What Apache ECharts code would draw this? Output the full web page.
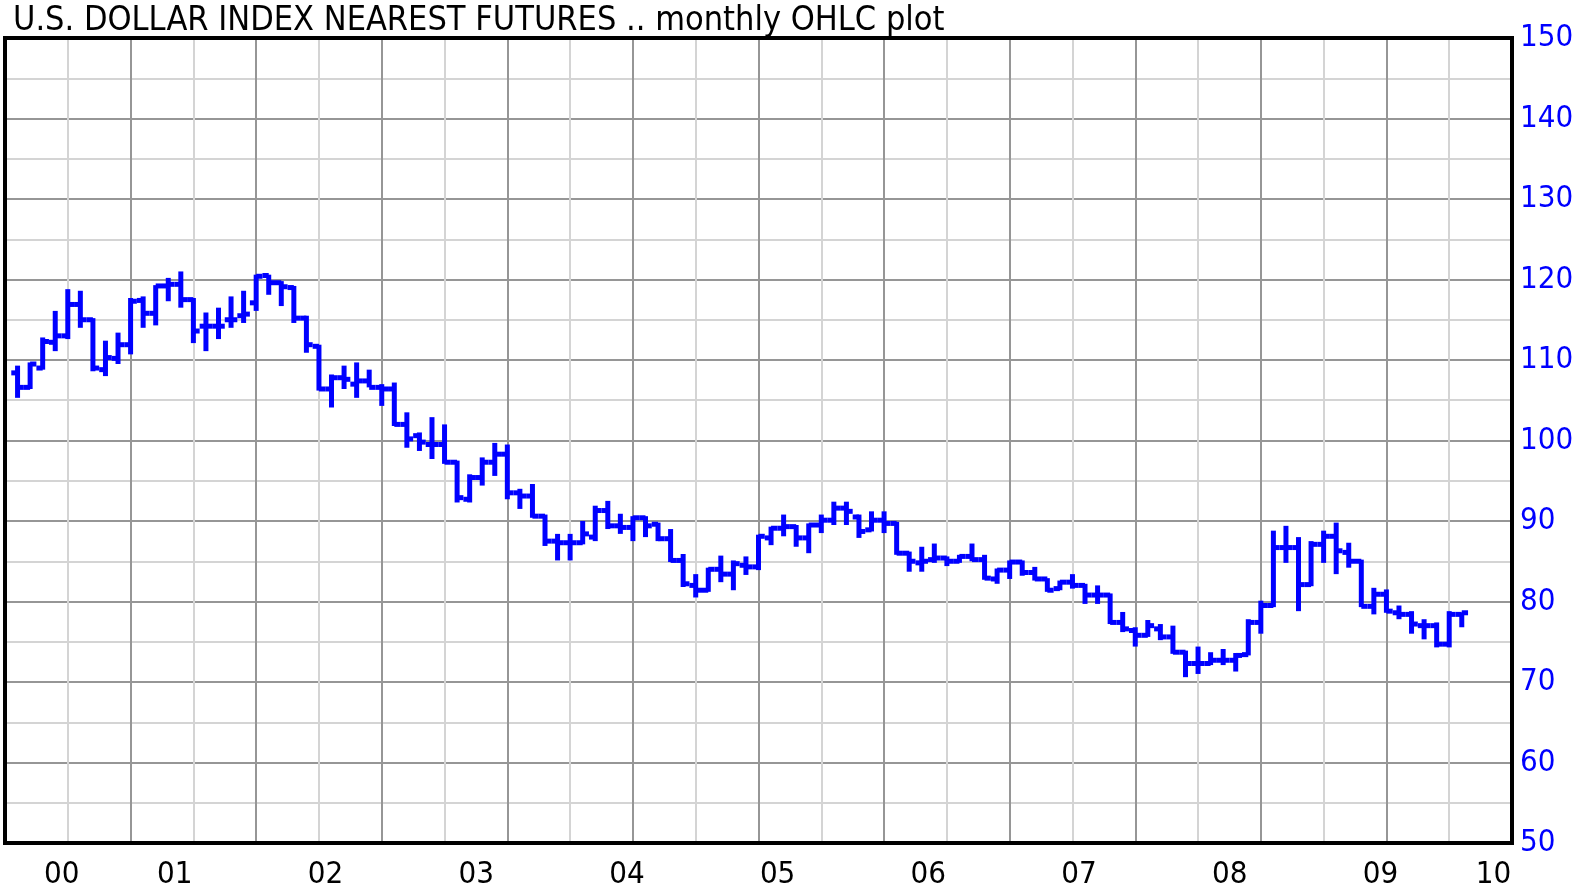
<!DOCTYPE html>
<html>
<head>
<meta charset="utf-8">
<title>U.S. Dollar Index nearest futures</title>
<script src="https://cdn.jsdelivr.net/npm/echarts@6/dist/echarts.min.js"></script>
<style>
  html, body { margin: 0; padding: 0; background: #fff; }
  #chart { width: 1577px; height: 890px; }
</style>
</head>
<body>
<div id="chart"></div>
<script>
// category axis: one slot per month, May 2000 .. May 2010
const months = [
  '2000-05', '2000-06', '2000-07', '2000-08', '2000-09', '2000-10', '2000-11', '2000-12',
  '2001-01', '2001-02', '2001-03', '2001-04', '2001-05', '2001-06', '2001-07', '2001-08', '2001-09', '2001-10', '2001-11', '2001-12',
  '2002-01', '2002-02', '2002-03', '2002-04', '2002-05', '2002-06', '2002-07', '2002-08', '2002-09', '2002-10', '2002-11', '2002-12',
  '2003-01', '2003-02', '2003-03', '2003-04', '2003-05', '2003-06', '2003-07', '2003-08', '2003-09', '2003-10', '2003-11', '2003-12',
  '2004-01', '2004-02', '2004-03', '2004-04', '2004-05', '2004-06', '2004-07', '2004-08', '2004-09', '2004-10', '2004-11', '2004-12',
  '2005-01', '2005-02', '2005-03', '2005-04', '2005-05', '2005-06', '2005-07', '2005-08', '2005-09', '2005-10', '2005-11', '2005-12',
  '2006-01', '2006-02', '2006-03', '2006-04', '2006-05', '2006-06', '2006-07', '2006-08', '2006-09', '2006-10', '2006-11', '2006-12',
  '2007-01', '2007-02', '2007-03', '2007-04', '2007-05', '2007-06', '2007-07', '2007-08', '2007-09', '2007-10', '2007-11', '2007-12',
  '2008-01', '2008-02', '2008-03', '2008-04', '2008-05', '2008-06', '2008-07', '2008-08', '2008-09', '2008-10', '2008-11', '2008-12',
  '2009-01', '2009-02', '2009-03', '2009-04', '2009-05', '2009-06', '2009-07', '2009-08', '2009-09', '2009-10', '2009-11', '2009-12',
  '2010-01', '2010-02', '2010-03', '2010-04', '2010-05',
]

// monthly bars, Jun 2000 .. Jan 2010
const firstBar = '2000-06'
const opens = [
  108.4, 106.6, 109.0, 112.2, 113.0, 116.9, 115.0, 108.8, 110.2, 111.9, 117.4, 115.8,
  119.2, 119.4, 117.5, 114.2, 114.2, 115.0, 115.5, 117.1, 120.5, 119.6, 119.0, 115.2,
  111.7, 106.4, 107.8, 107.0, 107.4, 106.6, 106.4, 102.0, 100.6, 99.5, 99.5, 97.3,
  92.7, 95.4, 97.3, 98.3, 93.5, 93.1, 90.6, 87.5, 87.3, 87.3, 88.0, 91.3,
  89.4, 89.2, 90.4, 89.6, 87.8, 85.1, 82.0, 81.4, 84.0, 83.4, 84.5, 84.3,
  87.9, 89.1, 89.3, 87.9, 89.5, 90.1, 91.6, 90.5, 88.9, 90.1, 89.7, 86.0,
  84.8, 85.2, 85.4, 85.0, 85.6, 85.2, 82.8, 83.9, 84.9, 83.6, 82.8, 81.6,
  82.4, 82.0, 80.8, 80.8, 77.4, 76.4, 75.8, 76.6, 75.6, 73.7, 72.3, 72.3,
  72.7, 72.7, 73.4, 77.4, 79.5, 86.7, 86.7, 82.1, 87.1, 88.1, 86.1, 85.0,
  79.4, 80.9, 78.6, 78.4, 77.0, 77.0, 74.7, 78.4,
]
const highs = [
  109.3, 109.7, 112.8, 116.1, 118.8, 118.6, 115.2, 112.4, 113.4, 117.7, 117.9, 119.3,
  120.2, 121.0, 117.7, 115.9, 116.5, 117.9, 118.6, 120.6, 120.6, 119.8, 119.2, 115.5,
  111.9, 108.2, 109.3, 109.7, 108.8, 107.0, 107.2, 103.5, 101.0, 102.9, 102.0, 97.5,
  95.8, 97.9, 99.7, 99.5, 94.0, 94.6, 90.8, 88.4, 88.4, 90.0, 91.9, 92.5,
  90.9, 90.6, 90.6, 89.8, 89.0, 85.9, 83.4, 84.2, 85.7, 85.1, 85.6, 88.3,
  89.3, 90.8, 89.5, 89.7, 90.8, 92.4, 92.4, 90.8, 91.2, 91.2, 89.9, 86.2,
  86.8, 87.2, 85.6, 85.8, 87.2, 85.8, 84.1, 85.1, 85.1, 84.3, 82.9, 82.6,
  83.4, 82.2, 82.0, 81.0, 78.7, 76.8, 77.7, 77.2, 77.0, 73.9, 74.4, 73.7,
  74.1, 73.6, 77.8, 80.1, 88.8, 89.4, 88.0, 87.5, 88.8, 89.8, 87.3, 85.2,
  81.7, 81.5, 79.5, 78.8, 77.8, 77.4, 78.8, 78.6,
]
const lows = [
  105.3, 106.4, 108.8, 111.1, 112.6, 114.0, 108.6, 108.0, 109.5, 110.7, 114.0, 114.3,
  117.3, 116.5, 112.1, 111.1, 112.6, 114.0, 114.6, 116.1, 118.1, 116.7, 114.6, 110.9,
  106.2, 104.1, 106.4, 105.3, 106.6, 104.3, 101.8, 99.1, 98.7, 97.7, 97.1, 92.3,
  92.3, 94.4, 95.6, 92.7, 91.5, 90.4, 86.9, 85.1, 85.1, 87.1, 87.5, 89.0,
  88.4, 87.5, 88.0, 87.5, 84.9, 81.8, 80.5, 81.2, 82.4, 81.4, 83.3, 83.9,
  87.0, 88.1, 86.8, 86.0, 88.5, 89.5, 89.5, 87.9, 88.7, 88.5, 85.8, 83.7,
  83.7, 84.8, 84.4, 84.8, 85.0, 82.7, 82.2, 82.8, 83.2, 82.6, 81.2, 81.4,
  81.6, 79.7, 79.7, 77.2, 76.2, 74.4, 75.6, 75.2, 73.5, 70.6, 71.0, 72.1,
  72.1, 71.3, 73.3, 76.0, 79.3, 84.8, 78.8, 81.9, 84.8, 83.4, 84.2, 79.3,
  78.4, 78.6, 77.8, 76.0, 75.3, 74.3, 74.3, 76.8,
]
const closes = [
  106.6, 109.5, 112.3, 113.0, 116.9, 115.0, 109.0, 110.3, 111.9, 117.3, 115.8, 119.2,
  119.4, 117.5, 113.6, 114.2, 114.2, 115.0, 115.7, 120.4, 119.6, 119.1, 115.2, 111.9,
  106.4, 107.8, 107.6, 107.4, 106.6, 106.4, 102.0, 100.2, 99.8, 99.5, 97.3, 92.9,
  95.4, 97.3, 98.3, 93.5, 93.1, 90.6, 87.5, 87.3, 87.3, 88.4, 91.3, 89.4,
  89.2, 90.4, 89.4, 87.8, 85.1, 82.2, 81.4, 84.0, 83.4, 84.7, 84.3, 88.1,
  89.1, 89.3, 87.9, 89.5, 90.1, 91.6, 91.2, 88.7, 90.1, 89.7, 86.0, 85.0,
  85.0, 85.4, 85.0, 85.6, 85.2, 82.9, 83.9, 84.9, 83.6, 82.8, 81.4, 82.4,
  82.0, 80.8, 80.8, 77.4, 76.6, 75.8, 77.0, 75.6, 73.7, 72.3, 72.3, 72.7,
  72.7, 73.3, 77.4, 79.5, 86.7, 86.7, 82.1, 87.1, 88.1, 86.3, 85.0, 79.4,
  80.9, 78.8, 78.4, 77.2, 77.0, 74.7, 78.4, 78.6,
]

// year labels sit under the middle of each year
const yearLabels = ['00', '01', '02', '03', '04', '05', '06', '07', '08', '09', '10']
const yearLabelMonths = ['2000-10', '2001-07', '2002-07', '2003-07', '2004-07', '2005-07',
  '2006-07', '2007-07', '2008-07', '2009-07', '2010-04']

const start = months.indexOf(firstBar)
const ohlc = opens.map((o, i) => [start + i, o, highs[i], lows[i], closes[i]])

const labelFont = "'DejaVu Sans Condensed', 'DejaVu Sans', sans-serif"
const gridColors = ['#969696', '#d4d4d4']

const chart = echarts.init(document.getElementById('chart'))

// OHLC bar: high-low stem, open tick left, close tick right
const renderOhlc = (params, api) => {
  const x = api.value(0)
  const o = api.coord([x, api.value(1)])
  const h = api.coord([x, api.value(2)])
  const l = api.coord([x, api.value(3)])
  const c = api.coord([x, api.value(4)])
  const half = api.size([1, 0])[0] / 2
  const style = { stroke: '#0000ff', lineWidth: 5, fill: null }
  return {
    type: 'group',
    children: [
      { type: 'line', shape: { x1: h[0], y1: h[1], x2: l[0], y2: l[1] }, style },
      { type: 'line', shape: { x1: o[0] - half, y1: o[1], x2: o[0], y2: o[1] }, style },
      { type: 'line', shape: { x1: c[0], y1: c[1], x2: c[0] + half, y2: c[1] }, style },
    ],
  }
}

const option = {
  animation: false,
  title: {
    text: 'U.S. DOLLAR INDEX NEAREST FUTURES .. monthly OHLC plot',
    left: 8,
    top: -1,
    textStyle: {
      fontFamily: labelFont,
      fontSize: 34,
      fontWeight: 'normal',
      color: '#000',
    },
  },
  grid: {
    show: true,
    z: 1,
    left: 5,
    right: 65,
    top: 38,
    bottom: 47,
    borderColor: '#000',
    borderWidth: 4,
    backgroundColor: 'transparent',
  },
  xAxis: [
    {
      type: 'category',
      data: months,
      boundaryGap: false,
      axisLine: { show: false },
      axisTick: { show: false },
      splitLine: { show: false },
      axisLabel: {
        interval: 0,
        margin: 16,
        padding: [0, 12, 0, 0],
        color: '#000',
        fontFamily: labelFont,
        fontSize: 31,
        formatter: (v) => {
          const k = yearLabelMonths.indexOf(v)
          return k >= 0 ? yearLabels[k] : ''
        },
      },
    },
    {
      // plain 24-column grid, not tied to the dates
      type: 'value',
      position: 'top',
      min: 0,
      max: 24,
      interval: 1,
      axisLine: { show: false },
      axisTick: { show: false },
      axisLabel: { show: false },
      splitLine: { show: true, lineStyle: { color: gridColors, width: 2 } },
    },
  ],
  yAxis: {
    type: 'value',
    position: 'right',
    min: 50,
    max: 150,
    interval: 5,
    axisLine: { show: false },
    axisTick: { show: false },
    splitLine: { show: true, lineStyle: { color: gridColors, width: 2 } },
    axisLabel: {
      margin: 8,
      color: '#0000ff',
      fontFamily: labelFont,
      fontSize: 31,
      formatter: (v) => (v % 10 === 0 ? String(v) : ''),
    },
  },
  series: [
    {
      type: 'custom',
      name: 'DX',
      xAxisIndex: 0,
      yAxisIndex: 0,
      z: 3,
      data: ohlc,
      encode: { x: 0, y: [1, 2, 3, 4] },
      renderItem: renderOhlc,
    },
  ],
}

chart.setOption(option)
</script>
</body>
</html>
